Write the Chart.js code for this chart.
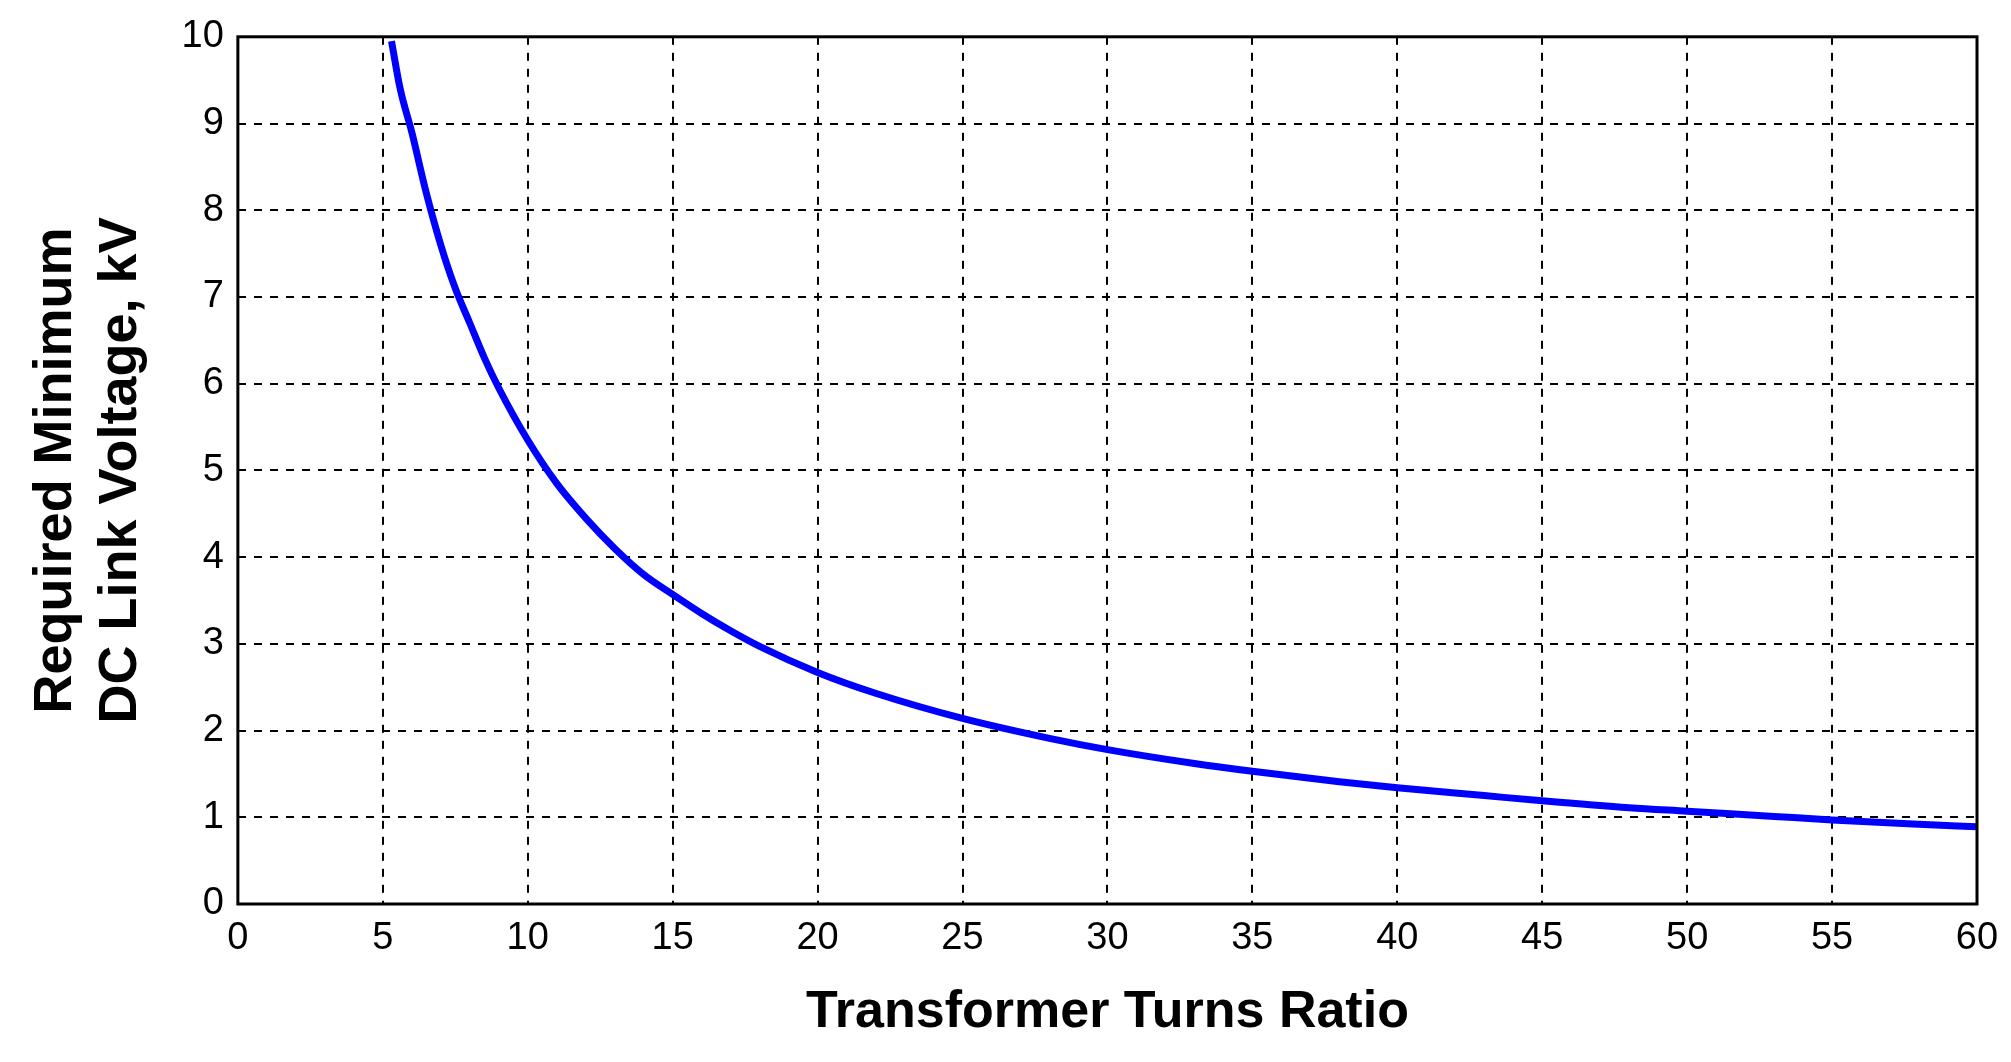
<!DOCTYPE html>
<html>
<head>
<script src="https://cdn.jsdelivr.net/npm/chart.js@4"></script>
<style>
  html, body { margin: 0; padding: 0; background: #fff; }
  #wrap { width: 2011px; height: 1062px; }
</style>
</head>
<body>
<div id="wrap"><canvas id="chart"></canvas></div>
<script>
// Values
const turnsRatio = [5.3, 5.6, 6, 6.5, 7, 7.5, 8, 8.5, 9, 10, 11, 12, 13, 14, 15, 16, 17, 18, 20, 22, 25, 28, 30, 33, 35, 38, 40, 43, 45, 48, 50, 53, 55, 58, 60];
const dcVoltage = [9.95, 9.4, 8.9, 8.2, 7.6, 7.1, 6.7, 6.3, 5.95, 5.35, 4.85, 4.45, 4.1, 3.8, 3.57, 3.35, 3.15, 2.97, 2.67, 2.43, 2.14, 1.91, 1.78, 1.62, 1.53, 1.41, 1.34, 1.25, 1.19, 1.11, 1.07, 1.01, 0.97, 0.92, 0.89];
const xTicks = [0, 5, 10, 15, 20, 25, 30, 35, 40, 45, 50, 55, 60];
const yTicks = [0, 1, 2, 3, 4, 5, 6, 7, 8, 9, 10];

const points = turnsRatio.map((x, i) => ({ x: x, y: dcVoltage[i] }));

// Draw the full box around the plot area
const frameBox = {
  id: 'frameBox',
  afterDraw(chart) {
    const a = chart.chartArea, ctx = chart.ctx;
    ctx.save();
    ctx.strokeStyle = '#000';
    ctx.lineWidth = 3;
    ctx.strokeRect(a.left, a.top, a.right - a.left, a.bottom - a.top);
    ctx.restore();
  }
};

new Chart(document.getElementById('chart'), {
  type: 'scatter',
  data: {
    datasets: [{
      data: points,
      showLine: true,
      borderColor: '#0000ff',
      borderWidth: 7,
      pointRadius: 0,
      cubicInterpolationMode: 'monotone'
    }]
  },
  options: {
    responsive: true,
    maintainAspectRatio: false,
    animation: false,
    layout: { padding: { top: 20, right: 34, bottom: 14, left: 20 } },
    plugins: { legend: { display: false }, tooltip: { enabled: false } },
    scales: {
      x: {
        type: 'linear', min: 0, max: 60,
        afterBuildTicks: s => { s.ticks = xTicks.map(v => ({ value: v })); },
        grid: { color: '#000', lineWidth: 2, drawTicks: false },
        border: { display: false, dash: [8, 8] },
        ticks: { color: '#000', font: { family: 'Liberation Sans', size: 38 }, padding: 12 },
        title: { display: true, text: 'Transformer Turns Ratio', color: '#000',
                 font: { family: 'Liberation Sans', size: 52, weight: 'bold' }, padding: { top: 8 } }
      },
      y: {
        min: 0, max: 10,
        afterBuildTicks: s => { s.ticks = yTicks.map(v => ({ value: v })); },
        grid: { color: '#000', lineWidth: 2, drawTicks: false },
        border: { display: false, dash: [8, 8] },
        ticks: { color: '#000', font: { family: 'Liberation Sans', size: 38 }, padding: 14 },
        title: { display: true, text: ['Required Minimum', 'DC Link Voltage, kV'], color: '#000',
                 font: { family: 'Liberation Sans', size: 54, weight: 'bold' }, padding: { bottom: 14 } }
      }
    }
  },
  plugins: [frameBox]
});
</script>
</body>
</html>
